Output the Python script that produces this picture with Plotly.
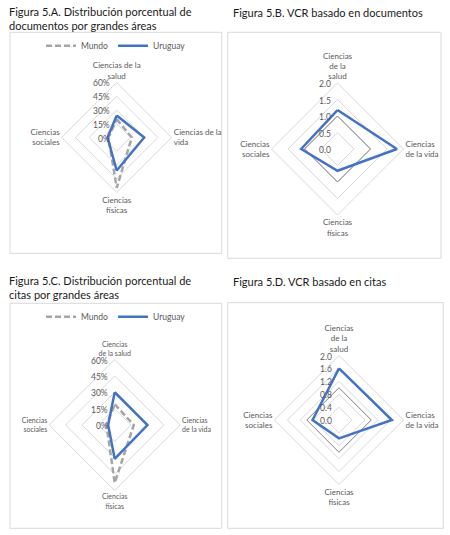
import plotly.graph_objects as go

# ---------------- data ----------------
categories = ["Ciencias de la salud", "Ciencias de la vida", "Ciencias físicas", "Ciencias sociales"]

docs_mundo = [20, 16.5, 55, 9]
docs_uruguay = [24, 30, 36, 10]

vcr_docs_mundo = [1.0, 1.0, 1.0, 1.0]
vcr_docs_uruguay = [1.18, 1.8, 0.66, 1.1]

cit_mundo = [19, 17.5, 53, 7.5]
cit_uruguay = [30, 30, 31, 6]

vcr_cit_mundo = [1.0, 1.0, 1.0, 1.0]
vcr_cit_uruguay = [1.6, 1.64, 0.57, 0.82]

labels_a = ["Ciencias de la<br>salud", "Ciencias de la<br>vida", "Ciencias<br>físicas", "Ciencias<br>sociales"]
labels_b = ["Ciencias<br>de la<br>salud", "Ciencias<br>de la vida", "Ciencias<br>físicas", "Ciencias<br>sociales"]
labels_c = ["Ciencias<br>de la salud", "Ciencias<br>de la vida", "Ciencias<br>físicas", "Ciencias<br>sociales"]
labels_d = labels_b

pct_ticks = [0, 15, 30, 45, 60]
vcr_b_ticks = [0, 0.5, 1.0, 1.5, 2.0]
vcr_d_ticks = [0, 0.4, 0.8, 1.2, 1.6, 2.0]

titles = [
    "Figura 5.A. Distribución porcentual de<br>documentos por grandes áreas",
    "Figura 5.B. VCR basado en documentos",
    "Figura 5.C. Distribución porcentual de<br>citas por grandes áreas",
    "Figura 5.D. VCR basado en citas",
]

W, H = 450, 535
BLUE = "#4472C4"
GREY = "#A5A5A5"
DARK = "#7F7F7F"
GRID = "#D9D9D9"
TXT = "#595959"
FONT = "Lato"


def closed(v):
    return list(v) + [v[0]]


fig = go.Figure()


def add(values, polar, name, color, width, dash, legend=None):
    fig.add_trace(go.Scatterpolar(
        r=closed(values), theta=closed(categories), mode="lines", name=name,
        line=dict(color=color, width=width, dash=dash),
        subplot=polar, showlegend=legend is not None,
        legend=legend if legend else "legend",
        hoverinfo="skip",
    ))


DASH = "6px,3px"
add(docs_mundo, "polar", "Mundo", GREY, 2.5, DASH, "legend")
add(docs_uruguay, "polar", "Uruguay", BLUE, 2.5, "solid", "legend")
add(vcr_docs_mundo, "polar2", "Mundo", DARK, 1, "solid")
add(vcr_docs_uruguay, "polar2", "Uruguay", BLUE, 2.5, "solid")
add(cit_mundo, "polar3", "Mundo", GREY, 2.5, DASH, "legend2")
add(cit_uruguay, "polar3", "Uruguay", BLUE, 2.5, "solid", "legend2")
add(vcr_cit_mundo, "polar4", "Mundo", DARK, 1, "solid")
add(vcr_cit_uruguay, "polar4", "Uruguay", BLUE, 2.5, "solid")


def dom(cx, cy, r):
    return dict(x=[(cx - r) / W, (cx + r) / W], y=[(H - cy - r) / H, (H - cy + r) / H])


def polar(domain, ticks, labels, lsize):
    return dict(
        domain=domain,
        gridshape="linear",
        bgcolor="rgba(0,0,0,0)",
        radialaxis=dict(
            range=[ticks[0], ticks[-1]], tickvals=ticks, showticklabels=False,
            showline=False, ticks="", gridcolor=GRID, gridwidth=1, angle=90,
        ),
        angularaxis=dict(
            rotation=90, direction="clockwise", showgrid=False, showline=True,
            linecolor=GRID, linewidth=1, ticks="",
            tickmode="array", tickvals=categories, ticktext=labels,
            tickfont=dict(family=FONT, size=lsize, color=TXT),
        ),
    )


panels = [
    (116.7, 137.5, 55, pct_ticks, "{:.0f}%", labels_a, 8),
    (337.5, 149, 66, vcr_b_ticks, "{:.1f}", labels_b, 8),
    (114.7, 425, 65.5, pct_ticks, "{:.0f}%", labels_c, 7),
    (339, 420, 64.5, vcr_d_ticks, "{:.1f}", labels_d, 8),
]

layout_polars = {}
for i, (cx, cy, r, ticks, fmt, labels, lsize) in enumerate(panels):
    key = "polar" if i == 0 else f"polar{i + 1}"
    layout_polars[key] = polar(dom(cx, cy, r), ticks, labels, lsize)
    # radial tick labels, placed left of the vertical axis (Excel style)
    for t in ticks:
        ypix = cy - r * (t - ticks[0]) / (ticks[-1] - ticks[0])
        fig.add_annotation(xref="paper", yref="paper", x=(cx - 5) / W, y=(H - ypix - 1) / H,
                           text=fmt.format(t), showarrow=False, xanchor="right", yanchor="middle",
                           font=dict(family=FONT, size=8.5, color=TXT))

fig.update_layout(
    width=W, height=H, margin=dict(l=0, r=0, t=0, b=0),
    paper_bgcolor="white", plot_bgcolor="white",
    font=dict(family=FONT, color=TXT),
    legend=dict(orientation="h", x=116 / W, xanchor="center", y=(H - 45.7) / H, yanchor="middle",
                font=dict(family=FONT, size=8.5, color=TXT), bgcolor="rgba(0,0,0,0)",
                itemwidth=30, tracegroupgap=0),
    legend2=dict(orientation="h", x=116 / W, xanchor="center", y=(H - 316.7) / H, yanchor="middle",
                 font=dict(family=FONT, size=8.5, color=TXT), bgcolor="rgba(0,0,0,0)",
                 itemwidth=30, tracegroupgap=0),
    **layout_polars,
)

# panel boxes
boxes = [(10, 32.3, 221.7, 253.3), (227.7, 32.3, 441, 258.3), (10, 303.3, 221.7, 528.3), (227.7, 302.7, 443.3, 528.3)]
for x0, y0, x1, y1 in boxes:
    fig.add_shape(type="rect", xref="paper", yref="paper",
                  x0=x0 / W, x1=x1 / W, y0=(H - y0) / H, y1=(H - y1) / H,
                  line=dict(color=GRID, width=1), fillcolor="rgba(0,0,0,0)", layer="below")

# titles
title_pos = [(7, 18.5), (231, 12), (7, 287.5), (231, 281.7)]
for (x, y), t in zip(title_pos, titles):
    fig.add_annotation(xref="paper", yref="paper", x=x / W, y=(H - y) / H, text=t,
                       showarrow=False, xanchor="left", yanchor="middle", align="left",
                       font=dict(family=FONT, size=11, color="#1A1A1A"))

fig.write_html("out.html")
